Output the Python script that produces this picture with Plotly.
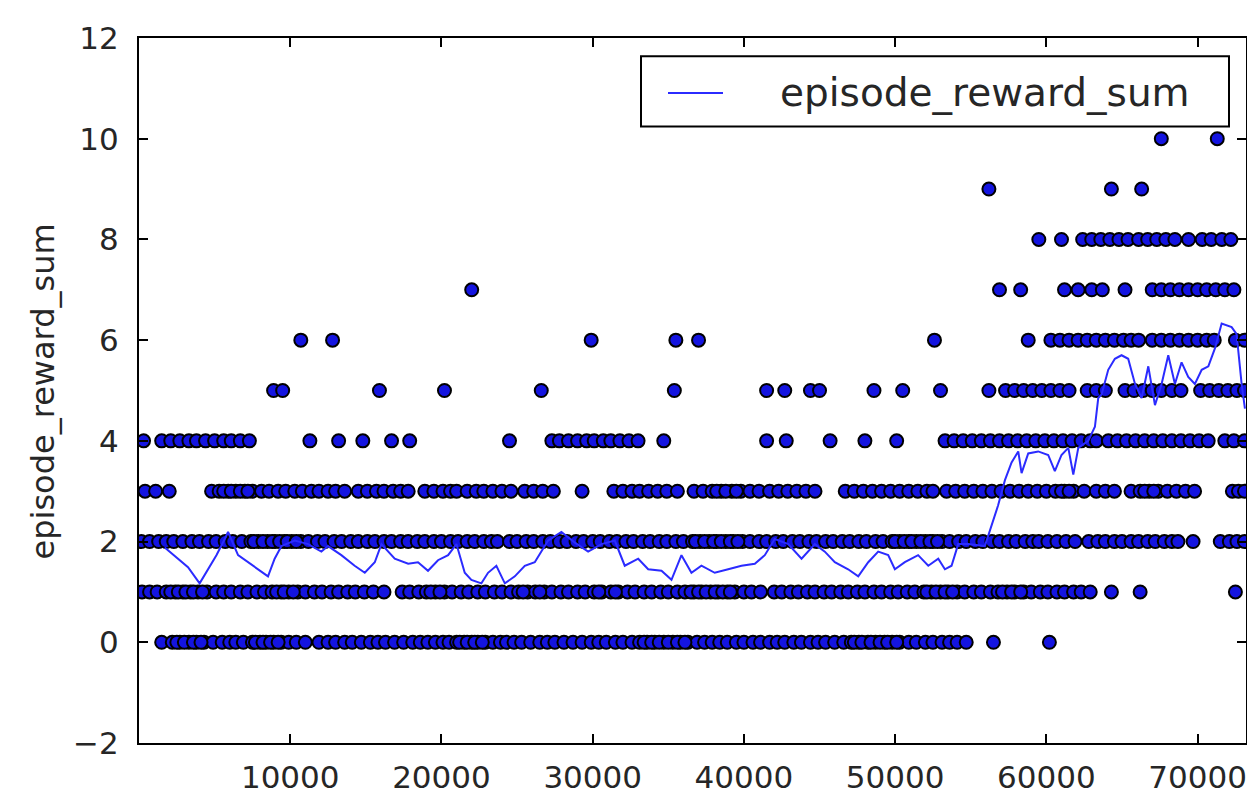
import plotly.graph_objects as go

# ---------------- data ----------------
# x positions (training step) of episodes, grouped by their reward-sum value
steps_reward_0 = [1500, 2200, 2700, 3300, 3800, 4300, 4900, 5500, 6000, 6400, 6900, 7500, 8000, 8400,
                  8900, 9400, 9900, 10400, 11000, 11900, 12500, 13000, 13600, 14100, 14700, 15300,
                  15800, 16300, 16900, 17500, 18100, 18600, 19100, 19600, 20100, 20500, 21000, 21500,
                  22000, 22400, 22900, 23400, 23900, 24300, 24800, 25300, 25900, 26500, 27000, 27500,
                  28100, 28700, 29300, 29900, 30400, 30900, 31500, 32000, 32600, 33100, 33600, 34100,
                  34700, 35300, 35800, 36300, 36900, 37400, 37900, 38400, 38900, 39500, 40000, 40600,
                  41100, 41700, 42200, 42700, 43300, 43800, 44400, 44900, 45400, 46000, 46600, 47100,
                  47600, 48200, 48700, 49300, 49800, 50300, 50900, 51400, 52000, 52500, 53100, 53600,
                  54100, 54700, 56500, 60200,
                  2500, 3000, 3600, 4100, 7700, 8200, 8700, 9200, 21200, 21700, 22200, 22700, 33400,
                  33900, 34400, 35000, 35600, 36100, 47300, 47800, 48400, 49000, 49500, 50100]
steps_reward_1 = [200, 700, 1200, 1800, 2400, 2900, 3400, 3900, 4500, 5100, 5600, 6100, 6700, 7200,
                  7800, 8300, 8800, 9400, 9900, 10500, 11000, 11600, 12100, 12700, 13200, 13800, 14300,
                  14900, 15500, 16200, 17400, 17900, 18500, 19000, 19600, 20200, 20700, 21300, 21800,
                  22400, 22900, 23500, 24000, 24600, 25100, 25700, 26200, 26800, 27300, 27900, 28400,
                  29000, 29500, 30100, 30600, 31200, 31700, 32300, 32800, 33400, 33900, 34500, 35000,
                  35600, 36100, 36700, 37200, 37800, 38300, 38900, 39400, 40000, 40500, 41100, 42000,
                  42500, 43100, 43600, 44200, 44700, 45300, 45800, 46400, 46900, 47500, 48000, 48600,
                  49100, 49700, 50200, 50800, 51300, 51900, 52400, 53000, 53500, 54100, 54600, 55200,
                  55700, 56300, 56800, 57400, 57900, 58500, 59000, 59600, 60100, 60700, 61200, 61800,
                  62300, 62900, 64300, 66200, 72500,
                  2100, 2600, 3100, 3600, 4200, 9100, 9600, 10200, 19300, 19900, 25400, 26500, 30400,
                  31500, 36500, 37000, 37500, 38100, 38600, 39100, 52100, 52700, 53300, 53800, 57100,
                  57700, 58300]
steps_reward_2 = [150, 700, 1300, 1800, 2300, 2900, 3500, 4000, 4600, 5100, 5700, 6200, 6800, 7400,
                  7900, 8500, 9000, 9600, 10100, 10700, 11200, 11800, 12300, 12900, 13400, 14000, 14500,
                  15100, 15600, 16200, 16700, 17300, 17800, 18400, 18900, 19500, 20000, 20600, 21100,
                  21700, 22200, 22800, 23300, 23700, 24500, 25000, 25600, 26100, 26700, 27200, 27800,
                  28300, 28900, 29400, 30000, 30500, 31100, 31600, 32200, 32700, 33300, 33800, 34400,
                  34900, 35500, 36000, 36600, 37100, 37700, 38200, 38800, 39300, 39900, 40400, 41000,
                  41500, 42100, 42600, 43200, 43700, 44300, 44800, 45400, 45900, 46500, 47000, 47600,
                  48100, 48700, 49200, 49800, 50300, 50900, 51400, 52000, 52500, 53100, 53600, 54200,
                  54700, 55300, 55800, 56400, 56900, 57500, 58000, 58600, 59100, 59500, 60100, 60700,
                  61300, 61900, 62800, 63400, 63900, 64500, 65000, 65600, 66100, 66700, 67200, 67800,
                  68300, 68700, 69700, 71500, 72100, 72600, 73100,
                  7600, 8200, 8800, 9300, 9800, 10400, 36800, 37400, 38000, 38500, 39100, 39600, 50000,
                  50600, 51100, 51700, 52300, 52800]
steps_reward_3 = [400, 1100, 2000, 4800, 5300, 5900, 6400, 7000, 7500, 8100, 8600, 9200, 9700, 10300,
                  10800, 11400, 11900, 12500, 13000, 13600, 14500, 15100, 15700, 16200, 16800, 17300,
                  17800, 18900, 19500, 20100, 20600, 21000, 21700, 22300, 22800, 23400, 24000, 24600,
                  25500, 26100, 26700, 27400, 29300, 31400, 32000, 32600, 33100, 33700, 34300, 34900,
                  35600, 36700, 37300, 37900, 38500, 39200, 39800, 40400, 41000, 41700, 42300, 42900,
                  43500, 44100, 44700, 46700, 47300, 47900, 48500, 49100, 49700, 50300, 50900, 51500,
                  52100, 52500, 53400, 54000, 54600, 55200, 55800, 56400, 57000, 57600, 58200, 58800,
                  59400, 60000, 60600, 61200, 61800, 62500, 63300, 63900, 64500, 65600, 66200, 66800,
                  67400, 68000, 68600, 69200, 69800, 72300, 72700, 73100,
                  5600, 6100, 6700, 7200, 38200, 38800, 39500, 61000, 61500, 66500, 67100]
steps_reward_4 = [300, 1500, 2100, 2700, 3300, 3800, 4400, 5000, 5600, 6100, 6700, 7300, 11300, 13200,
                  14800, 16700, 17900, 24500, 27300, 27800, 28400, 29000, 29600, 30100, 30700, 31200,
                  31800, 32400, 33000, 34700, 41500, 42800, 45700, 48000, 50100, 53300, 53900, 54500,
                  55100, 55700, 56300, 56900, 57500, 58100, 58700, 59300, 59900, 60500, 61100, 61700,
                  62300, 62900, 63300, 64100, 64700, 65300, 65900, 66500, 67100, 67700, 68300, 68900,
                  69500, 70100, 70700, 71800, 72400, 73100]
steps_reward_5 = [8900, 9500, 15900, 20200, 26600, 35400, 41500, 42700, 44400, 45000, 48600, 50500,
                  53000, 56200, 57300, 57900, 58500, 59100, 59700, 60300, 60900, 61500, 62700, 63300,
                  63900, 65200, 65800, 66400, 67000, 67600, 68300, 68900, 70200, 70800, 71400, 72000,
                  72600, 73100]
steps_reward_6 = [10700, 12800, 29900, 35500, 37000, 52600, 58800, 60300, 60900, 61500, 62100, 62700,
                  63300, 63900, 64500, 65100, 65600, 66100, 67000, 67600, 68200, 68800, 69400, 70000,
                  70600, 71100, 72500, 73100]
steps_reward_7 = [22000, 56900, 58300, 61200, 62100, 63000, 63700, 65200, 67000, 67600, 68200, 68800,
                  69400, 70000, 70600, 71200, 71800, 72400]
steps_reward_8 = [59500, 61000, 62400, 63000, 63600, 64200, 64800, 65400, 66100, 66700, 67300, 67900,
                  68500, 69400, 70300, 70900, 71600, 72200]
steps_reward_9 = [56200, 64300, 66300]
steps_reward_10 = [67600, 71300]

# smoothed (running mean) curve
smooth_steps = [1700, 2580, 3240, 4010, 4560, 5120, 5670, 5890, 6550, 7210, 7870, 8530, 8970, 9420,
                10300, 11180, 12060, 12500, 13380, 14260, 14930, 15590, 16030, 16910, 17800, 18450,
                19110, 19770, 20440, 20990, 21540, 21980, 22640, 23080, 23630, 24190, 24850, 25510,
                26170, 26610, 27050, 27930, 28820, 29700, 30580, 31460, 32120, 33010, 33670, 34550,
                35210, 35870, 36530, 37190, 38070, 38960, 39840, 40720, 41380, 42040, 42930, 43810,
                44690, 45350, 46010, 46890, 47560, 48220, 48880, 49540, 49980, 50640, 51520, 52190,
                52850, 53290, 53730, 54170, 54830, 55930, 56370, 56810, 57260, 57700, 58140, 58360,
                58800, 59460, 60120, 60560, 61000, 61450, 61780, 62110, 62770, 63210, 63430, 63650,
                64090, 64530, 64970, 65410, 65860, 66300, 66740, 67180, 67620, 68060, 68500, 68940,
                69380, 69820, 70270, 70710, 71150, 71590, 72250, 72580, 72910, 73130]
smooth_values = [1.88, 1.66, 1.49, 1.17, 1.45, 1.73, 2.05, 2.19, 1.73, 1.59, 1.45, 1.31, 1.66, 1.91,
                 2.02, 1.95, 1.80, 1.91, 1.73, 1.52, 1.38, 1.59, 1.95, 1.66, 1.56, 1.59,
                 1.42, 1.63, 1.73, 1.95, 1.38, 1.24, 1.17, 1.38, 1.52, 1.17, 1.31, 1.52,
                 1.59, 1.80, 2.02, 2.19, 1.98, 1.80, 1.95, 2.02, 1.52, 1.66, 1.45, 1.42,
                 1.24, 1.73, 1.38, 1.52, 1.38, 1.45, 1.52, 1.56, 1.73, 2.05, 1.95, 1.66,
                 1.95, 1.80, 1.59, 1.45, 1.31, 1.59, 1.80, 1.73, 1.45, 1.59, 1.73, 1.52,
                 1.66, 1.45, 1.52, 1.95, 1.95, 1.91, 2.30, 2.72, 3.22, 3.57, 3.79, 3.36,
                 3.75, 3.79, 3.72, 3.40, 3.72, 3.86, 3.33, 3.86, 4.00, 4.28, 4.85, 4.92,
                 5.41, 5.63, 5.70, 5.63, 5.13, 4.85, 5.48, 4.71, 5.13, 5.70, 5.13, 5.56,
                 5.27, 5.13, 5.41, 5.48, 5.84, 6.33, 6.26, 6.12, 5.13, 4.64]

x_tick_vals = [10000, 20000, 30000, 40000, 50000, 60000, 70000]
x_tick_text = ["10000", "20000", "30000", "40000", "50000", "60000", "70000"]
y_tick_vals = [-2, 0, 2, 4, 6, 8, 10, 12]
x_limits = [0, 73200]
y_limits = [-2, 12]
y_label = "episode_reward_sum"
legend_label = "episode_reward_sum"

# ---------------- build the figure ----------------
levels = [steps_reward_0, steps_reward_1, steps_reward_2, steps_reward_3, steps_reward_4,
          steps_reward_5, steps_reward_6, steps_reward_7, steps_reward_8, steps_reward_9,
          steps_reward_10]
scatter_x, scatter_y = [], []
for value, steps in enumerate(levels):
    scatter_x.extend(steps)
    scatter_y.extend([value] * len(steps))

FONT = "DejaVu Sans"
TEXT_COLOR = "#262626"
LINE_BLUE = "#2b2bff"

fig = go.Figure()
fig.add_trace(go.Scatter(
    x=scatter_x, y=scatter_y, mode="markers", name="episodes", showlegend=False,
    marker=dict(size=13, color="#1414e0", line=dict(color="#000000", width=2)),
))
fig.add_trace(go.Scatter(
    x=smooth_steps, y=smooth_values, mode="lines", name=legend_label, showlegend=False,
    line=dict(color=LINE_BLUE, width=2),
))

axis_common = dict(
    showline=True, linecolor="black", linewidth=2, mirror="ticks",
    ticks="inside", ticklen=9, tickwidth=1.5, tickcolor="black",
    showgrid=False, zeroline=False,
    tickfont=dict(family=FONT, size=31, color=TEXT_COLOR),
)

fig.update_layout(
    width=1255, height=799,
    margin=dict(l=131, r=17, t=23, b=44),
    paper_bgcolor="white", plot_bgcolor="white",
    font=dict(family=FONT, color=TEXT_COLOR),
    showlegend=False,
    xaxis=dict(range=x_limits, tickvals=x_tick_vals, ticktext=x_tick_text,
               ticklabelstandoff=6, **axis_common),
    yaxis=dict(range=y_limits, tickvals=y_tick_vals, ticklabelstandoff=12, **axis_common),
)

# y-axis label
fig.add_annotation(
    text=y_label, textangle=-90, xref="paper", yref="paper",
    x=(35 - 131) / 1107, y=(755 - 390) / 732, xanchor="center", yanchor="middle",
    showarrow=False, font=dict(family=FONT, size=32, color=TEXT_COLOR),
)

# legend box (matplotlib style, upper right)
lx0, lx1 = (633 - 131) / 1107, (1221 - 131) / 1107
ly0, ly1 = (755 - 115) / 732, (755 - 42) / 732
ly_mid = (755 - 80) / 732
fig.add_shape(type="rect", xref="paper", yref="paper", x0=lx0, x1=lx1, y0=ly0, y1=ly1,
              line=dict(color="black", width=2), fillcolor="white", layer="above")
fig.add_shape(type="line", xref="paper", yref="paper",
              x0=(660 - 131) / 1107, x1=(715 - 131) / 1107, y0=ly_mid, y1=ly_mid,
              line=dict(color=LINE_BLUE, width=2), layer="above")
fig.add_annotation(
    text=legend_label, xref="paper", yref="paper",
    x=(770 - 131) / 1107, y=ly_mid, xanchor="left", yanchor="middle",
    showarrow=False, font=dict(family=FONT, size=39, color=TEXT_COLOR),
)

fig.write_html("out.html")
